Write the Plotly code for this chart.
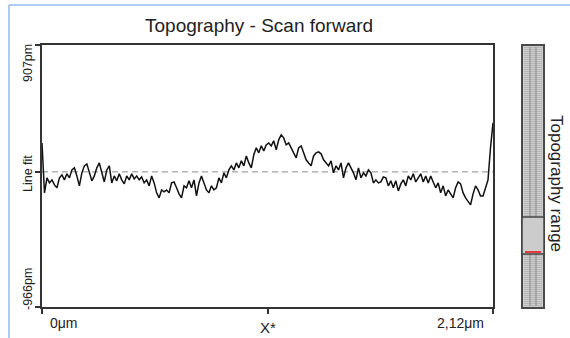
import numpy as np
import plotly.graph_objects as go

# ---- data ----
x_start_um = 0.0
x_end_um = 2.12
y_min_pm = -966
y_max_pm = 907
tick_labels_y = ["907pm", "-966pm"]
tick_labels_x = ["0μm", "2,12μm"]
height_pm = [
    207, -150,
    -43, -79, -57, -93, -114, -43, -21, -57, -14, -43, 14, 29, -29, -100, -7, 43, 57, -7,
    -64, -29, 29, 64, -7, -72, 14, 43, -79, -29, -64, -14, -57, -86, -29, -57, -14, -50,
    -29, -57, -36, -79, -57, -100, -29, -79, -150, -186, -129, -143, -129, -150, -79, -72,
    -114, -157, -186, -100, -114, -64, -114, -57, -172, -79, -29, -86, -129, -150, -100,
    -129, -114, -43, -79, -7, -43, 14, 43, 14, 64, 29, 79, 43, 114, 64, 29, 122, 172, 136,
    186, 150, 193, 207, 186, 222, 157, 229, 265, 243, 193, 207, 172, 136, 100, 172, 186,
    136, 86, 64, 43, 114, 136, 143, 129, 86, 64, 43, 79, -7, 43, 14, 64, -43, 29, 64, 29,
    -7, -57, 29, -43, -7, -29, 14, -7, -79, -57, -79, -72, -36, -43, -100, -64, -114, -64,
    -136, -86, -57, -100, -29, -57, -14, -72, -43, -14, -72, -29, -79, -29, -72, -114,
    -79, -150, -100, -172, -129, -157, -186, -114, -72, -86, -150, -186, -215, -236, -157,
    -100, -129, -172, -172, -114, -57,
    172, 350,
]
x_um = np.linspace(x_start_um, x_end_um, len(height_pm))

W, H = 570, 338
L, R, T, B = 42, 493, 45, 307


def fx(px):
    return px / W


def fy(py):
    return (B - py) / (B - T)


fig = go.Figure()
fig.add_trace(go.Scatter(x=x_um, y=height_pm, mode="lines",
                         line=dict(color="#111111", width=1.5), hoverinfo="skip"))

font = "Liberation Sans, Arial, sans-serif"
fig.update_layout(
    width=W, height=H,
    margin=dict(l=0, r=0, t=T, b=H - B),
    paper_bgcolor="white", plot_bgcolor="white",
    showlegend=False,
    font=dict(family=font, size=12, color="#222222"),
    xaxis=dict(domain=[fx(L), fx(R)], range=[x_start_um, x_end_um],
               showgrid=False, zeroline=False, showline=True, mirror=True,
               linecolor="#333333", linewidth=1.5,
               ticks="outside", ticklen=5, tickwidth=1.5, tickcolor="#333333",
               tickvals=[x_start_um, (x_start_um + x_end_um) / 2, x_end_um],
               showticklabels=False),
    yaxis=dict(range=[y_min_pm, y_max_pm],
               showgrid=False, zeroline=False, showline=True, mirror=True,
               linecolor="#333333", linewidth=1.5,
               ticks="outside", ticklen=5, tickwidth=1.5, tickcolor="#333333",
               tickvals=[y_min_pm, 0, y_max_pm], showticklabels=False),
)

# dashed line-fit reference
fig.add_shape(type="line", xref="x", yref="y", x0=x_start_um, x1=x_end_um, y0=0, y1=0,
              line=dict(color="#8a8a8a", width=1, dash="6px,4px"), layer="below")

shapes = []
# blue frame
shapes.append(dict(type="line", xref="paper", yref="paper", x0=fx(9), x1=fx(9),
                   y0=fy(5), y1=fy(340), line=dict(color="#92baf2", width=1.5)))
shapes.append(dict(type="line", xref="paper", yref="paper", x0=fx(9), x1=fx(572),
                   y0=fy(5), y1=fy(5), line=dict(color="#92baf2", width=1.5)))
# range bar
shapes.append(dict(type="rect", xref="paper", yref="paper", x0=fx(522), x1=fx(544),
                   y0=fy(308), y1=fy(45), fillcolor="#cdcdcd",
                   line=dict(color="#4a4a4a", width=2)))
for px in range(525, 543, 2):
    shapes.append(dict(type="line", xref="paper", yref="paper", x0=fx(px), x1=fx(px),
                       y0=fy(306), y1=fy(47),
                       line=dict(color="#a2a2a2", width=1, dash="1px,1px")))
for px in (530, 536):
    shapes.append(dict(type="line", xref="paper", yref="paper", x0=fx(px), x1=fx(px),
                       y0=fy(306), y1=fy(47),
                       line=dict(color="#8a8a8a", width=1)))
shapes.append(dict(type="rect", xref="paper", yref="paper", x0=fx(522), x1=fx(544),
                   y0=fy(254), y1=fy(217), fillcolor="#cccccc",
                   line=dict(color="#444444", width=1.5)))
shapes.append(dict(type="line", xref="paper", yref="paper", x0=fx(525), x1=fx(541),
                   y0=fy(252), y1=fy(252), line=dict(color="#e83a3a", width=2)))
for s in shapes:
    fig.add_shape(**s)

ann = [
    dict(text="Topography - Scan forward", x=fx(259), y=fy(25), size=19, angle=0),
    dict(text=tick_labels_y[0], x=fx(28), y=fy(63), size=12.5, angle=-90),
    dict(text="Line fit", x=fx(28), y=fy(174), size=12.5, angle=-90),
    dict(text=tick_labels_y[1], x=fx(28), y=fy(289), size=12.5, angle=-90),
    dict(text=tick_labels_x[0], x=fx(64), y=fy(323), size=14, angle=0),
    dict(text="X*", x=fx(268), y=fy(327), size=15, angle=0),
    dict(text=tick_labels_x[1], x=fx(460), y=fy(323), size=14, angle=0),
    dict(text="Topography range", x=fx(557), y=fy(183), size=17, angle=90),
]
for a in ann:
    fig.add_annotation(text=a["text"], x=a["x"], y=a["y"], xref="paper", yref="paper",
                       showarrow=False, textangle=a["angle"], xanchor="center",
                       yanchor="middle", font=dict(size=a["size"], family=font,
                                                   color="#222222"))

fig.write_html("out.html")
